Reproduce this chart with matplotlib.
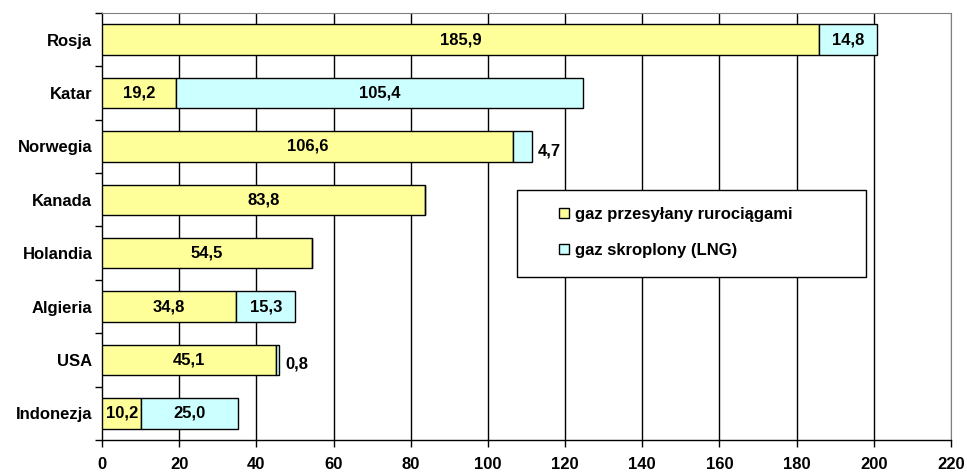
import numpy as np
import matplotlib
matplotlib.use("Agg")
import matplotlib.pyplot as plt
from matplotlib.patches import Patch, Rectangle

plt.rcParams['font.family'] = ['Liberation Sans', 'DejaVu Sans']
plt.rcParams['font.weight'] = 'bold'

kraje = ["Rosja", "Katar", "Norwegia", "Kanada", "Holandia", "Algieria", "USA", "Indonezja"]
ruroc = [185.9, 19.2, 106.6, 83.8, 54.5, 34.8, 45.1, 10.2]
lng = [14.8, 105.4, 4.7, 0, 0, 15.3, 0.8, 25.0]
lbl_ruroc = ["185,9", "19,2", "106,6", "83,8", "54,5", "34,8", "45,1", "10,2"]
lbl_lng = ["14,8", "105,4", "4,7", "", "", "15,3", "0,8", "25,0"]
xticks = [0, 20, 40, 60, 80, 100, 120, 140, 160, 180, 200, 220]

zolty = "#FFFF99"
niebieski = "#CCFFFF"
fs = 12

fig = plt.figure(figsize=(9.67, 4.72), dpi=100)
ax = fig.add_axes([0.1055, 0.0678, 0.878, 0.9047])

y = np.arange(len(kraje))
h = 0.57
ax.barh(y, ruroc, height=h, color=zolty, edgecolor="black", linewidth=1, zorder=3)
ax.barh(y, lng, left=ruroc, height=h, color=niebieski, edgecolor="black", linewidth=1, zorder=3)

for i in range(len(kraje)):
    ax.text(ruroc[i] / 2, y[i], lbl_ruroc[i], ha="center", va="center",
            fontsize=fs, fontweight="bold", zorder=4)
    if lbl_lng[i] == "":
        continue
    if lng[i] < 10:
        # male wartosci - etykieta obok slupka
        ax.text(ruroc[i] + lng[i] + 1.5, y[i] + 0.08, lbl_lng[i], ha="left", va="center",
                fontsize=fs, fontweight="bold", zorder=4)
    else:
        ax.text(ruroc[i] + lng[i] / 2, y[i], lbl_lng[i], ha="center", va="center",
                fontsize=fs, fontweight="bold", zorder=4)

ax.set_xlim(0, 220)
ax.set_ylim(len(kraje) - 0.5, -0.5)
ax.set_xticks(xticks)
ax.set_xticklabels([str(t) for t in xticks], fontsize=fs, fontweight="bold")
ax.tick_params(axis="x", length=5, width=1, pad=7, direction="out")

ax.set_yticks(y)
ax.set_yticklabels(kraje, fontsize=fs, fontweight="bold")
ax.tick_params(axis="y", which="major", length=0, pad=7)
ax.set_yticks(np.arange(-0.5, len(kraje), 1), minor=True)
ax.tick_params(axis="y", which="minor", length=5, width=1, direction="out")

for t in xticks[1:-1]:
    ax.axvline(t, color="black", linewidth=1, zorder=1)
ax.axvline(220, color="#808080", linewidth=1, zorder=1)

ax.spines["top"].set_color("#808080")
ax.spines["right"].set_color("#808080")
ax.spines["left"].set_linewidth(1)
ax.spines["bottom"].set_linewidth(1)

# ramka legendy
ramka = Rectangle((0.4888, 0.3817), 0.4111, 0.2038, transform=ax.transAxes,
                  facecolor="white", edgecolor="black", linewidth=1, zorder=5)
ax.add_patch(ramka)

uchwyty = [Patch(facecolor=zolty, edgecolor="black", linewidth=1),
           Patch(facecolor=niebieski, edgecolor="black", linewidth=1)]
leg = ax.legend(uchwyty, ["gaz przesyłany rurociągami", "gaz skroplony (LNG)"],
                loc="center left", bbox_to_anchor=(0.538, 0.486),
                fontsize=fs, frameon=False, borderaxespad=0, borderpad=0,
                handlelength=0.6, handleheight=0.6, handletextpad=0.4,
                labelspacing=1.25)
for t in leg.get_texts():
    t.set_fontweight("bold")
leg.set_zorder(6)

fig.savefig("out.png", dpi=100)
